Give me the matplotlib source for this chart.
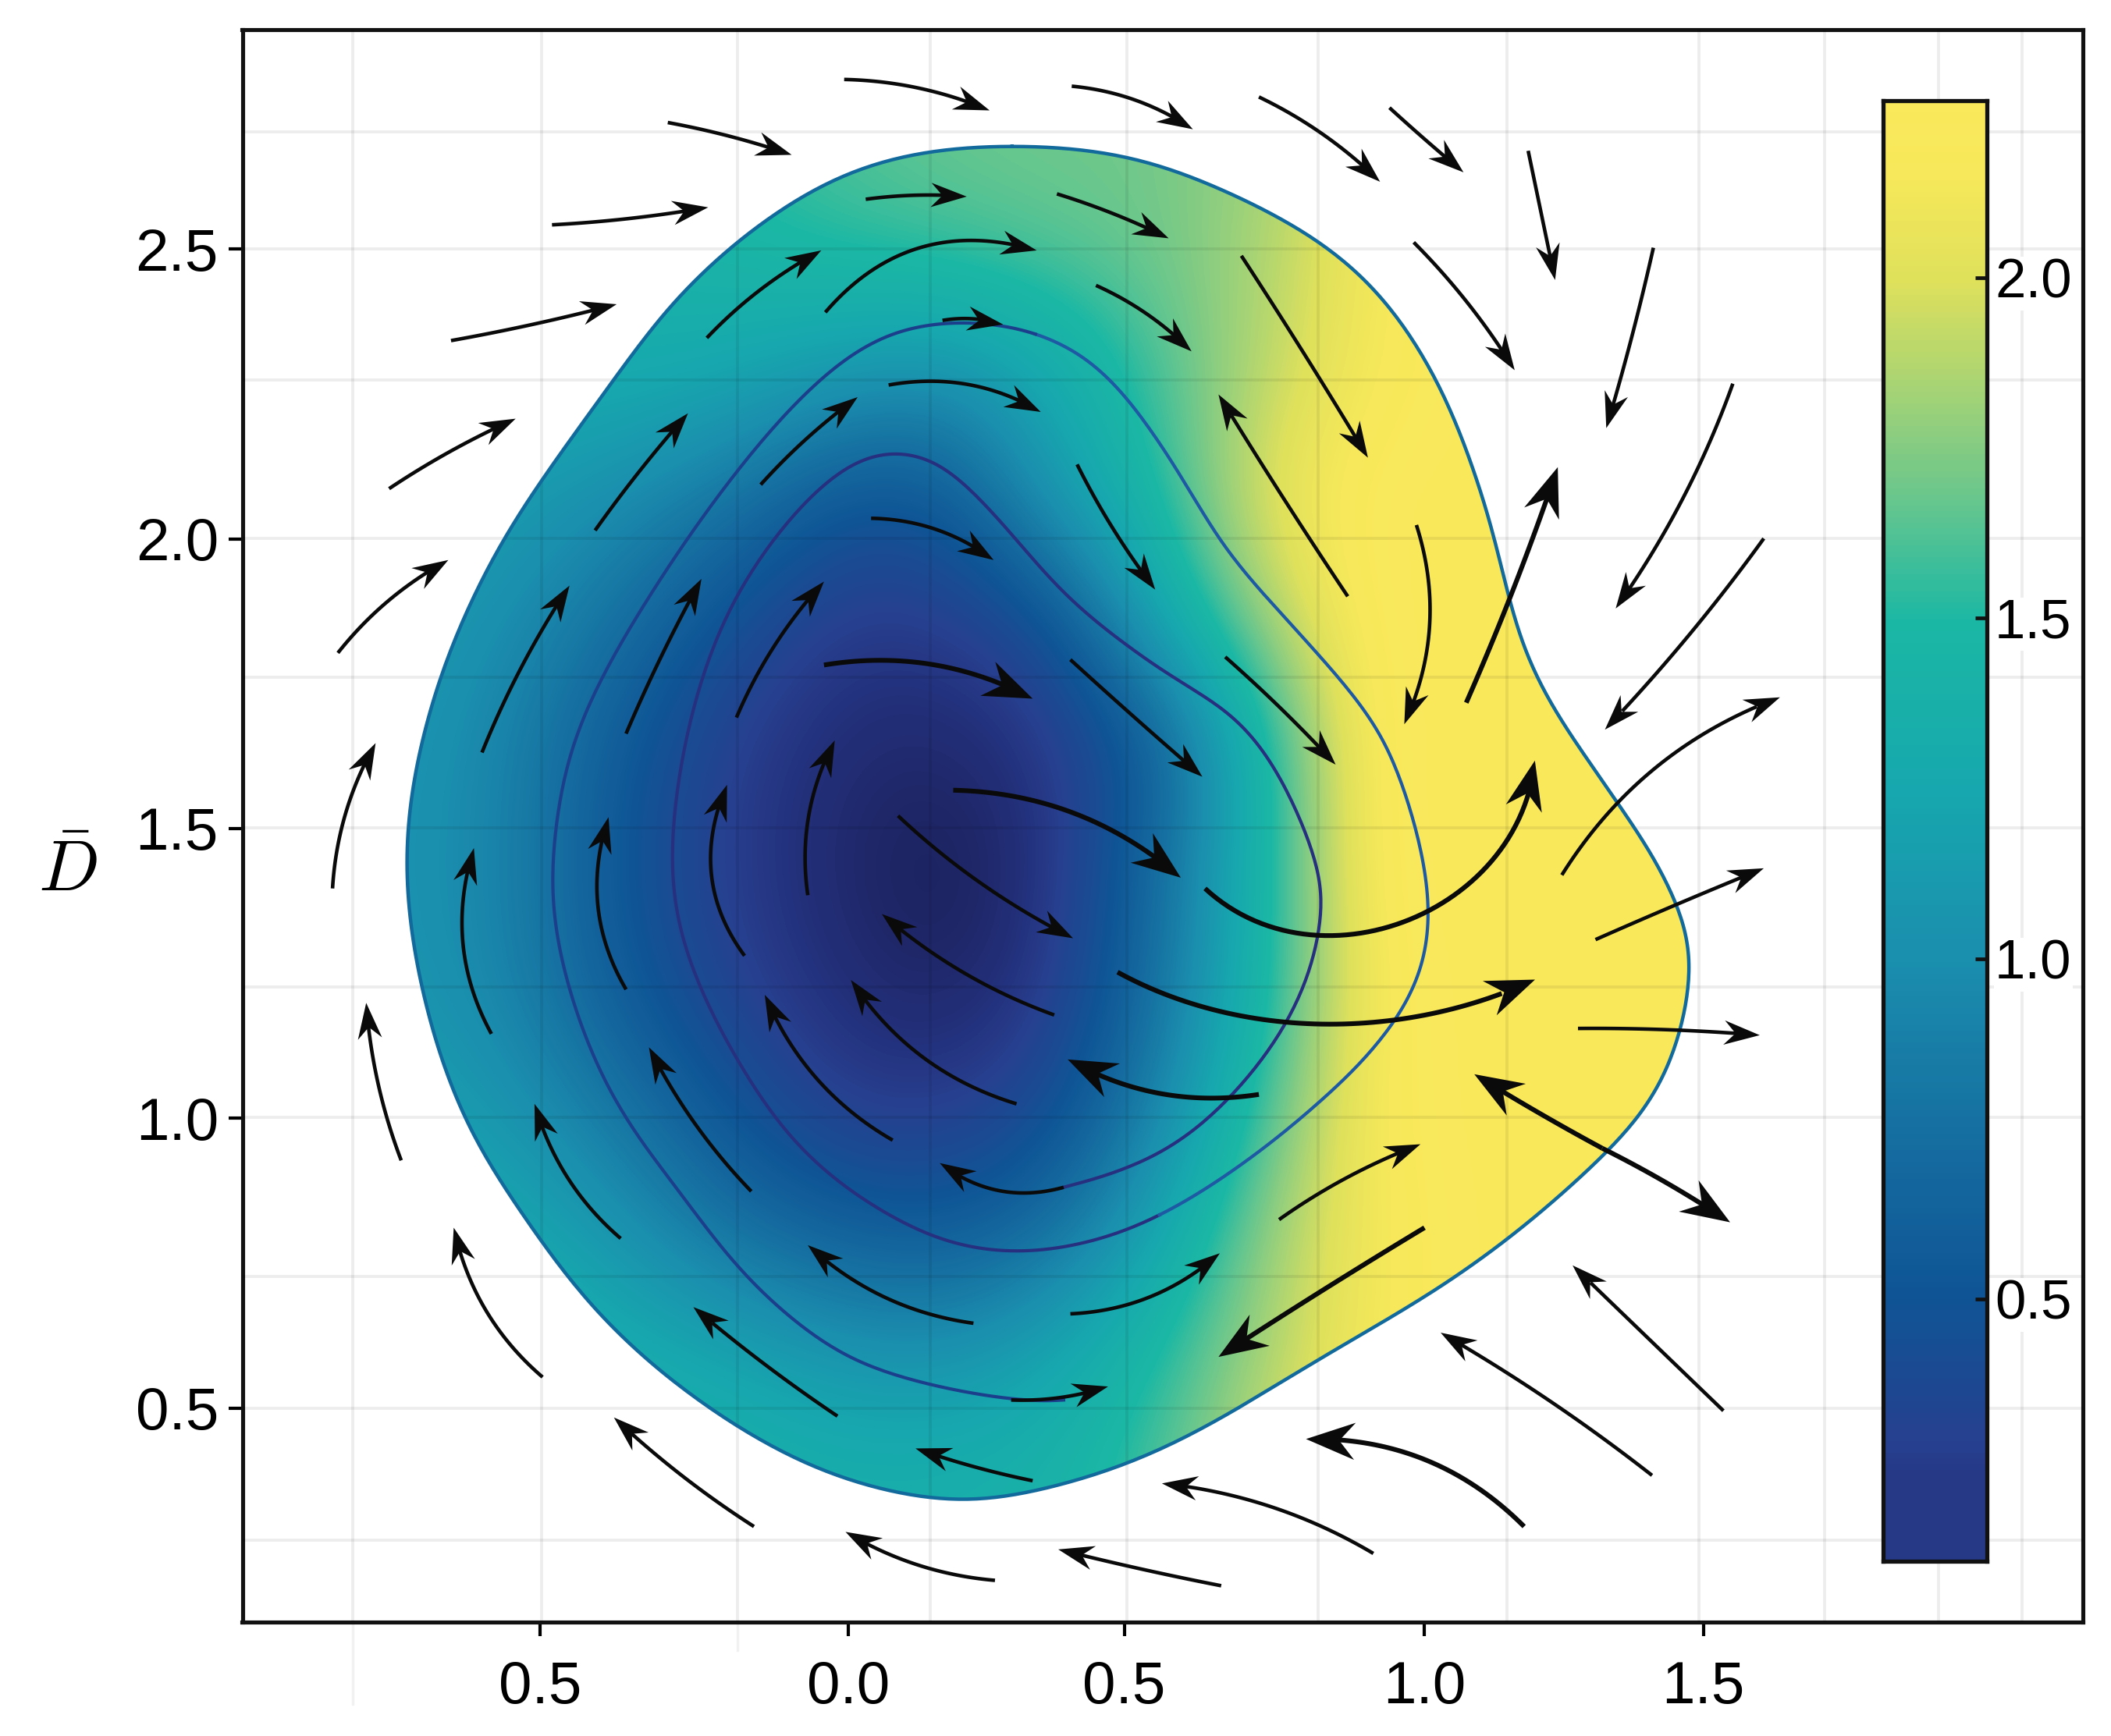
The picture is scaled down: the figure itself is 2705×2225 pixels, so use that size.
"""
Phase-plane style map: heat field inside a closed contour, a spiral level
curve, curved flow arrows and a colour bar set inside the axes.
Geometry below was digitised off the picture (col, row readings) and is turned
into chart units by x_of / y_of.
"""
import numpy as np
import matplotlib.pyplot as plt
from matplotlib.colors import LinearSegmentedColormap, Normalize
from matplotlib.patches import PathPatch
from matplotlib.path import Path

plt.rcParams['font.family'] = ['Liberation Sans', 'DejaVu Sans']
plt.rcParams['mathtext.fontset'] = 'cm'

# field readings on a coarse lattice
field_cols = [300, 380, 460, 540, 620, 700, 780, 860, 940, 1020, 1100, 1180, 1260]
field_rows = [100, 190, 280, 370, 460, 550, 640, 730, 820, 910, 1000, 1090, 1180]
field_values = [
    [1.50, 1.50, 1.50, 1.54, 1.62, 1.68, 1.70, 1.70, 1.80, 2.10, 2.25, 2.25, 2.25],
    [1.35, 1.35, 1.40, 1.45, 1.53, 1.58, 1.64, 1.70, 1.85, 2.15, 2.25, 2.25, 2.25],
    [1.30, 1.30, 1.30, 1.25, 1.10, 1.00, 1.25, 1.60, 1.90, 2.15, 2.25, 2.25, 2.25],
    [1.20, 1.12, 1.00, 0.80, 0.50, 0.50, 1.10, 1.50, 2.05, 2.25, 2.25, 2.25, 2.25],
    [1.12, 1.00, 0.75, 0.45, 0.25, 0.25, 0.42, 1.25, 1.85, 2.25, 2.25, 2.25, 2.25],
    [1.08, 0.90, 0.55, 0.28, 0.15, 0.12, 0.22, 0.55, 1.45, 2.25, 2.25, 2.25, 2.25],
    [1.05, 0.90, 0.50, 0.26, 0.12, 0.03, 0.18, 0.70, 1.45, 2.25, 2.25, 2.25, 2.25],
    [1.08, 0.90, 0.55, 0.30, 0.16, 0.08, 0.22, 0.75, 1.45, 2.20, 2.25, 2.25, 2.25],
    [1.18, 1.05, 0.78, 0.48, 0.26, 0.24, 0.38, 0.90, 1.60, 2.20, 2.25, 2.25, 2.25],
    [1.30, 1.25, 1.05, 0.75, 0.58, 0.52, 0.70, 1.20, 1.80, 2.15, 2.25, 2.25, 2.25],
    [1.40, 1.40, 1.30, 1.20, 1.05, 1.00, 1.20, 1.50, 1.85, 2.15, 2.25, 2.25, 2.25],
    [1.45, 1.45, 1.45, 1.40, 1.35, 1.35, 1.40, 1.60, 1.95, 2.20, 2.25, 2.25, 2.25],
    [1.45, 1.45, 1.45, 1.40, 1.35, 1.35, 1.40, 1.60, 1.95, 2.20, 2.25, 2.25, 2.25],
]

outer_contour = [
    (751, 108), (838, 115), (915, 144), (987, 183), (1043, 240), (1085, 320),
    (1113, 410), (1130, 480), (1165, 545), (1215, 615), (1250, 680), (1255, 735),
    (1235, 805), (1190, 860), (1115, 925), (1043, 973), (963, 1019), (867, 1077),
    (770, 1108), (703, 1115), (626, 1099), (544, 1059), (449, 984), (386, 898),
    (338, 820), (304, 696), (304, 586), (338, 470), (386, 380), (434, 313),
    (482, 246), (530, 194), (598, 143), (670, 115),
]

spiral_curve = [
    (790, 882), (860, 860), (920, 810), (965, 745), (982, 680), (975, 630),
    (934, 546), (881, 510), (818, 466), (770, 420), (713, 353), (665, 335),
    (617, 353), (559, 420), (520, 503), (499, 609), (504, 696), (544, 782),
    (590, 850), (645, 894), (700, 922), (751, 930), (800, 925), (860, 905),
    (930, 860), (990, 810), (1042, 753), (1065, 680), (1043, 586), (1011, 520),
    (929, 433), (890, 376), (833, 286), (770, 246), (698, 239), (626, 263),
    (544, 353), (482, 443), (429, 537), (412, 620), (412, 700), (449, 808),
    (497, 874), (544, 938), (600, 990), (660, 1022), (751, 1040), (790, 1040),
]

arrow_paths = [
    [(247, 660), (258, 600), (279, 552)], [(298, 862), (282, 810), (272, 745)],
    [(403, 1023), (365, 980), (337, 912)], [(560, 1134), (505, 1095), (456, 1053)],
    [(739, 1174), (680, 1162), (628, 1138)], [(907, 1178), (845, 1165), (786, 1151)],
    [(1020, 1154), (940, 1118), (863, 1102)], [(1132, 1134), (1060, 1085), (970, 1069)],
    [(1227, 1096), (1150, 1040), (1070, 990)], [(1280, 1048), (1225, 995), (1168, 940)],
    [(1190, 853), (1240, 880), (1285, 908)], [(1190, 853), (1140, 825), (1095, 798)],
    [(1172, 764), (1240, 765), (1307, 769)], [(1185, 698), (1245, 672), (1310, 645)],
    [(1160, 650), (1230, 570), (1322, 518)], [(1310, 400), (1260, 465), (1192, 542)],
    [(1287, 285), (1250, 370), (1200, 452)], [(1228, 184), (1212, 250), (1193, 318)],
    [(1135, 112), (1145, 160), (1155, 208)], [(1032, 80), (1060, 105), (1087, 128)],
    [(935, 72), (980, 98), (1025, 135)], [(796, 64), (845, 75), (886, 96)],
    [(627, 59), (685, 66), (735, 82)], [(496, 91), (545, 102), (588, 115)],
    [(410, 167), (470, 162), (526, 154)], [(335, 253), (400, 240), (458, 226)],
    [(289, 363), (335, 335), (383, 311)], [(251, 485), (290, 445), (333, 416)],
    [(1050, 180), (1090, 225), (1125, 275)], [(922, 190), (970, 265), (1016, 340)],
    [(1001, 443), (950, 365), (905, 293)], [(1052, 390), (1062, 460), (1043, 538)],
    [(1089, 522), (1125, 435), (1157, 347)], [(785, 144), (825, 158), (868, 177)],
    [(643, 148), (680, 145), (718, 146)], [(525, 251), (565, 215), (610, 186)],
    [(613, 232), (680, 185), (770, 186)], [(814, 212), (850, 232), (885, 261)],
    [(660, 286), (730, 288), (773, 306)], [(565, 360), (600, 325), (637, 295)],
    [(442, 394), (475, 350), (511, 307)], [(358, 559), (385, 500), (423, 435)],
    [(465, 545), (490, 490), (521, 430)], [(547, 533), (575, 480), (612, 432)],
    [(647, 385), (700, 395), (738, 416)], [(800, 345), (825, 390), (858, 438)],
    [(910, 488), (950, 525), (992, 568)], [(612, 494), (700, 495), (767, 519)],
    [(795, 490), (845, 535), (893, 577)], [(600, 665), (600, 610), (620, 550)],
    [(553, 710), (530, 660), (540, 583)], [(465, 735), (445, 680), (452, 607)],
    [(365, 768), (345, 710), (352, 630)], [(708, 587), (800, 605), (877, 652)],
    [(667, 606), (720, 650), (797, 697)], [(783, 754), (720, 725), (655, 679)],
    [(755, 820), (685, 785), (632, 728)], [(663, 847), (610, 805), (568, 739)],
    [(558, 885), (520, 840), (482, 778)], [(461, 920), (425, 880), (397, 820)],
    [(622, 1052), (570, 1015), (515, 971)], [(723, 983), (660, 965), (600, 925)],
    [(935, 813), (860, 812), (793, 787)],
    [(895, 660), (990, 695), (1080, 665), (1140, 565)],
    [(830, 722), (920, 755), (1020, 758), (1100, 745), (1140, 727)],
    [(795, 976), (850, 965), (906, 931)], [(950, 906), (1000, 875), (1055, 850)],
    [(1058, 912), (980, 960), (905, 1008)], [(767, 1100), (725, 1090), (680, 1076)],
    [(790, 882), (745, 885), (698, 864)], [(751, 1040), (795, 1037), (823, 1030)],
    [(700, 238), (725, 237), (745, 241)],
]
heavy_arrows = [7, 32, 47, 53, 62, 63, 64, 67, 10, 11]

x_tick_pos = [-0.535, 0.0, 0.479, 1.0, 1.484]
x_tick_labels = ['0.5', '0.0', '0.5', '1.0', '1.5']
y_ticks = [0.5, 1.0, 1.5, 2.0, 2.5]
y_tick_labels = ['0.5', '1.0', '1.5', '2.0', '2.5']
grid_cols = [262, 402, 548, 691, 837, 979, 1119, 1262, 1355, 1440, 1502]
grid_rows = [98, 185, 282, 400, 503, 615, 733, 830, 948, 1046, 1144]
grid_stubs = [(262, 1266), (548, 1226)]

cbar_levels = [0.0, 0.10, 0.20, 0.28, 0.5, 0.7, 1.0, 1.25, 1.5, 1.65, 1.8, 2.0, 2.15, 2.26]
cbar_colors = ['#171c55', '#1f2768', '#243380', '#27408f', '#0f5596', '#156a9f', '#1b8fae',
               '#17a8ae', '#1cb8a5', '#5cc492', '#97d07c', '#dfe15c', '#f6e85a', '#fbe95c']
cbar_ticks = [0.5, 1.0, 1.5, 2.0]


def x_of(col):
    return (np.asarray(col, float) - 630) / 428


def y_of(row):
    return 2.5 - (np.asarray(row, float) - 185) / 430.5


def smooth(pts, closed=False, n=20, win=27):
    p = np.array(pts, float)
    if closed:
        p = np.vstack([p[-1], p, p[0], p[1]])
    else:
        p = np.vstack([2 * p[0] - p[1], p, 2 * p[-1] - p[-2]])
    t = np.linspace(0, 1, n, endpoint=False)[:, None]
    out = []
    for i in range(1, len(p) - 2):
        a, b, c, d = p[i - 1:i + 3]
        out.append(0.5 * (2 * b + (c - a) * t + (2 * a - 5 * b + 4 * c - d) * t ** 2
                          + (3 * b - a - 3 * c + d) * t ** 3))
    out.append(p[-2][None])
    curve = np.vstack(out)
    mode = {'mode': 'wrap'} if closed else {'mode': 'reflect', 'reflect_type': 'odd'}
    padded = np.pad(curve[:-1] if closed else curve, ((win, win), (0, 0)), **mode)
    kernel = np.ones(win) / win
    done = np.column_stack([np.convolve(padded[:, k], kernel, mode='same') for k in (0, 1)])
    done = done[win:-win]
    return np.vstack([done, done[0]]) if closed else done


def arrow_curve(pts):
    # low order fit against chord length, arrows in the picture bend only once
    p = np.array(pts, float)
    t = np.r_[0, np.cumsum(np.hypot(*np.diff(p, axis=0).T))]
    t = t / t[-1]
    deg = min(len(p) - 1, 3)
    tt = np.linspace(0, 1, 60)
    return np.polyval(np.polyfit(t, p[:, 0], deg), tt), np.polyval(np.polyfit(t, p[:, 1], deg), tt)


def draw_arrow(ax, pts, heavy=False):
    cols, rows = arrow_curve(pts)
    xs, ys = x_of(cols), y_of(rows)
    length = 0.085 if heavy else 0.062
    half = 0.032 if heavy else 0.021
    tip = np.array([xs[-1], ys[-1]])
    dist = np.hypot(xs - tip[0], ys - tip[1])
    keep = dist > length * 0.6
    ax.plot(xs[keep], ys[keep], color='#0a0a0a', lw=4.4 if heavy else 3.3,
            solid_capstyle='butt', zorder=5)
    back = np.argmax(dist < length)
    d = tip - np.array([xs[back], ys[back]])
    d = d / np.hypot(*d)
    nrm = np.array([-d[1], d[0]])
    head = np.array([tip, tip - d * length + nrm * half, tip - d * length * 0.68,
                     tip - d * length - nrm * half])
    ax.fill(head[:, 0], head[:, 1], color='#0a0a0a', lw=0, zorder=5)


cmap = LinearSegmentedColormap.from_list(
    'field', [(v / cbar_levels[-1], c) for v, c in zip(cbar_levels, cbar_colors)])
norm = Normalize(cbar_levels[0], cbar_levels[-1])

fig = plt.figure(figsize=(27.05, 22.25), dpi=100)
ax = fig.add_axes([310.5 / 2705, 1 - 2079 / 2225, 2358.5 / 2705, 2041 / 2225])

half_col = (field_cols[1] - field_cols[0]) / 2
half_row = (field_rows[1] - field_rows[0]) / 2
extent = [x_of(field_cols[0] - half_col), x_of(field_cols[-1] + half_col),
          y_of(field_rows[-1] + half_row), y_of(field_rows[0] - half_row)]
im = ax.imshow(field_values, extent=extent, origin='upper', cmap=cmap, norm=norm,
               interpolation='bicubic', aspect='auto', zorder=2)

outline = smooth(outer_contour, closed=True)
outline_xy = np.column_stack([x_of(outline[:, 0]), y_of(outline[:, 1])])
clip = PathPatch(Path(outline_xy), transform=ax.transData, fc='none', ec='none')
ax.add_patch(clip)
im.set_clip_path(clip)

for c in grid_cols:
    ax.axvline(x_of(c), color='k', alpha=0.07, lw=2.8, zorder=3)
for r in grid_rows:
    ax.axhline(y_of(r), color='k', alpha=0.07, lw=2.8, zorder=3)
for c, r in grid_stubs:
    ax.plot([x_of(c), x_of(c)], [y_of(1205), y_of(r)], color='#f1f1f1', lw=2.4, clip_on=False)

ax.plot(outline_xy[:, 0], outline_xy[:, 1], color='#11699c', lw=3.2, zorder=4)

spiral = smooth(spiral_curve)
sx, sy = x_of(spiral[:, 0]), y_of(spiral[:, 1])
cut1, cut2 = 23 * 20, 33 * 20
ax.plot(sx[:cut1 + 1], sy[:cut1 + 1], color='#26307f', lw=3.0, zorder=4)
ax.plot(sx[cut1:cut2 + 1], sy[cut1:cut2 + 1], color='#1d5aa3', lw=3.0, zorder=4)
ax.plot(sx[cut2:], sy[cut2:], color='#1c3f8c', lw=3.0, zorder=4)

for i, pts in enumerate(arrow_paths):
    draw_arrow(ax, pts, heavy=i in heavy_arrows)

ax.set_xlim(x_of(180), x_of(1547))
ax.set_ylim(y_of(1205), y_of(22))
ax.set_xticks(x_tick_pos, x_tick_labels)
ax.set_yticks(y_ticks, y_tick_labels)
ax.tick_params(axis='both', labelsize=55, length=13, width=3.0, direction='out')
ax.tick_params(axis='x', pad=22)
ax.tick_params(axis='y', pad=9)
for s in ax.spines.values():
    s.set_linewidth(3.7)
    s.set_color('#111111')
ax.set_ylabel(r'$\bar{D}$', rotation=0, fontsize=66)
ax.yaxis.set_label_coords(-0.095, 0.45)

cax = fig.add_axes([1399 * 1.7251 / 2705, 1 - 1160 * 1.7248 / 2225,
                    77 * 1.7251 / 2705, 1085 * 1.7248 / 2225])
# the bar stops at the lighter navy although the field itself runs darker
bar_levels = np.maximum(np.linspace(0.115, 2.26, 256)[::-1], 0.24)
cax.imshow(bar_levels[:, None], extent=[0, 1, 0.115, 2.26], cmap=cmap, norm=norm, aspect='auto')
cax.set_xticks([])
cax.yaxis.tick_right()
cax.set_yticks(cbar_ticks, ['0.5', '1.0', '1.5', '2.0'])
cax.tick_params(axis='y', labelsize=51, length=11, width=3.4, direction='in', pad=7,
                color='#111111')
for lab in cax.get_yticklabels():
    lab.set_bbox(dict(fc='white', ec='none', pad=1))
for s in cax.spines.values():
    s.set_linewidth(3.8)
    s.set_color('#111111')

fig.savefig('out.png', dpi=100)
